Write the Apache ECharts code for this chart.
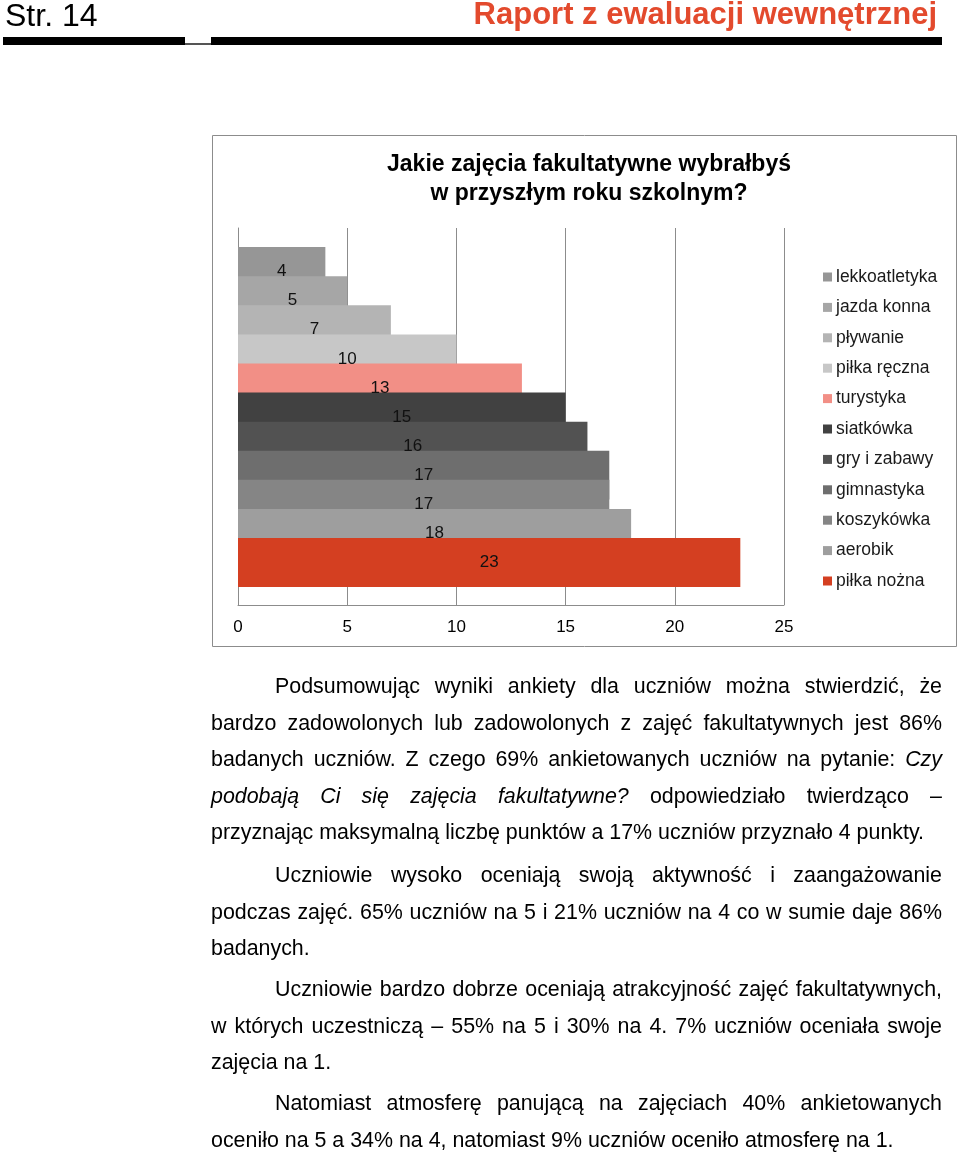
<!DOCTYPE html>
<html lang="pl">
<head>
  <meta charset="utf-8">
  <style>
    body { margin: 0; background: #fff; }
    #page { position: relative; width: 960px; height: 1152px; overflow: hidden; }
    #container { position: absolute; left: 0; top: 0; width: 960px; height: 1152px; }
    .hdr-left { position: absolute; left: 5px; top: -3px; font: 32px "Liberation Sans", Arial, sans-serif; color: #000; }
    .hdr-right { position: absolute; right: 23px; top: -4px; font: bold 31px "Liberation Sans", Arial, sans-serif; color: #e34a2d; }
    .bar { position: absolute; background: #000; }
    .para { position: absolute; left: 211px; width: 731px; font: 21.4px "Liberation Sans", Arial, sans-serif; color: #000; }
    .para div { height: 36.6px; line-height: 36.6px; white-space: nowrap; }
    .para div.j { text-align: justify; text-align-last: justify; white-space: normal; }
    .para div.first { padding-left: 64px; }
  </style>
</head>
<body>
<div id="page">
  <div id="container"></div>
  <div class="hdr-left">Str. 14</div>
  <div class="hdr-right">Raport z ewaluacji wewnętrznej</div>
  <div class="bar" style="left:3px; top:37px; width:182px; height:8px;"></div>
  <div class="bar" style="left:185px; top:43px; width:26px; height:2px; background:#555;"></div>
  <div class="bar" style="left:211px; top:37px; width:731px; height:8px;"></div>

  <div class="para" style="top:668px;">
    <div class="j first">Podsumowując wyniki ankiety dla uczniów można stwierdzić, że</div>
    <div class="j">bardzo zadowolonych lub zadowolonych z zajęć fakultatywnych jest 86%</div>
    <div class="j">badanych uczniów. Z czego 69% ankietowanych uczniów na pytanie: <i>Czy</i></div>
    <div class="j"><i>podobają Ci się zajęcia fakultatywne?</i> odpowiedziało twierdząco –</div>
    <div>przyznając maksymalną liczbę punktów a 17% uczniów przyznało 4 punkty.</div>
  </div>
  <div class="para" style="top:857px;">
    <div class="j first">Uczniowie wysoko oceniają swoją aktywność i zaangażowanie</div>
    <div class="j">podczas zajęć. 65% uczniów na 5 i 21% uczniów na 4 co w sumie daje 86%</div>
    <div>badanych.</div>
  </div>
  <div class="para" style="top:971px;">
    <div class="j first">Uczniowie bardzo dobrze oceniają atrakcyjność zajęć fakultatywnych,</div>
    <div class="j">w których uczestniczą – 55% na 5 i 30% na 4. 7% uczniów oceniała swoje</div>
    <div>zajęcia na 1.</div>
  </div>
  <div class="para" style="top:1085px;">
    <div class="j first">Natomiast atmosferę panującą na zajęciach 40% ankietowanych</div>
    <div>oceniło na 5 a 34% na 4, natomiast 9% uczniów oceniło atmosferę na 1.</div>
  </div>
</div>

<script src="https://cdn.jsdelivr.net/npm/echarts@6/dist/echarts.min.js"></script>
<script>
// zajęcia i liczba wskazań
var categories = ['lekkoatletyka', 'jazda konna', 'pływanie', 'piłka ręczna', 'turystyka',
  'siatkówka', 'gry i zabawy', 'gimnastyka', 'koszykówka', 'aerobik', 'piłka nożna'];
var values = [4, 5, 7, 10, 13, 15, 16, 17, 17, 18, 23];
var colors = ['#969696', '#a6a6a6', '#b4b4b4', '#c7c7c7', '#f28f86',
  '#414141', '#525252', '#6e6e6e', '#858585', '#9e9e9e', '#d43f21'];
var xTicks = [0, 5, 10, 15, 20, 25];

var FONT = '"Liberation Sans", Arial, sans-serif';

var chart = echarts.init(document.getElementById('container'), null, { renderer: 'canvas' });

// słupek grubszy niż odstęp kategorii -> nachodzą na siebie (jak w Excelu)
function renderBar(params, api) {
  var cat = api.value(1);
  var start = api.coord([0, cat]);
  var end = api.coord([api.value(0), cat]);
  var h = api.size([0, 1])[1] * 1.68;
  return {
    type: 'rect',
    shape: { x: start[0], y: start[1] - h / 2, width: end[0] - start[0], height: h },
    style: api.style()
  };
}

function renderLabel(params, api) {
  var cat = api.value(1);
  var start = api.coord([0, cat]);
  var end = api.coord([api.value(0), cat]);
  return {
    type: 'text',
    x: (start[0] + end[0]) / 2,
    y: start[1],
    style: {
      text: String(api.value(0)),
      align: 'center',
      verticalAlign: 'middle',
      fill: '#111',
      font: '17px ' + FONT
    }
  };
}

var series = categories.map(function (name, i) {
  return {
    name: name,
    type: 'custom',
    xAxisIndex: 0,
    yAxisIndex: 0,
    itemStyle: { color: colors[i] },
    encode: { x: 0, y: 1 },
    renderItem: renderBar,
    data: [[values[i], i]]
  };
});

series.push({
  name: 'etykiety',
  type: 'custom',
  z: 5,
  silent: true,
  xAxisIndex: 0,
  yAxisIndex: 0,
  encode: { x: 0, y: 1 },
  renderItem: renderLabel,
  data: values.map(function (v, i) { return [v, i]; })
});

var option = {
  animation: false,
  textStyle: { fontFamily: FONT },
  graphic: [{
    type: 'rect',
    shape: { x: 212.5, y: 135.5, width: 744, height: 511 },
    style: { fill: 'none', stroke: '#8c8c8c', lineWidth: 1 },
    z: -1
  }],
  title: {
    text: 'Jakie zajęcia fakultatywne wybrałbyś\nw przyszłym roku szkolnym?',
    left: 584,
    top: 145,
    textAlign: 'center',
    textStyle: { fontFamily: FONT, fontSize: 23, fontWeight: 'bold', color: '#000', lineHeight: 29 }
  },
  legend: {
    orient: 'vertical',
    left: 823,
    top: 268,
    padding: 0,
    icon: 'rect',
    itemWidth: 9,
    itemHeight: 9,
    itemGap: 12.4,
    textStyle: { fontFamily: FONT, fontSize: 17.5, color: '#1a1a1a', padding: [0, 0, 0, -1] },
    data: categories
  },
  grid: [
    { left: 238, top: 257, width: 546, height: 320 },
    { left: 238, top: 228, width: 546, height: 377 }
  ],
  xAxis: [
    { gridIndex: 0, type: 'value', min: 0, max: 25, show: false },
    {
      gridIndex: 1, type: 'value', min: xTicks[0], max: xTicks[xTicks.length - 1], interval: 5,
      axisLine: { show: true, lineStyle: { color: '#8c8c8c' } },
      axisTick: { show: false },
      splitLine: { show: true, lineStyle: { color: '#8c8c8c' } },
      axisLabel: { color: '#000', fontSize: 17, fontFamily: FONT, margin: 14 }
    }
  ],
  yAxis: [
    { gridIndex: 0, type: 'category', data: categories, inverse: true, show: false },
    {
      gridIndex: 1, type: 'value', min: 0, max: 1,
      axisLine: { show: true, lineStyle: { color: '#8c8c8c' } },
      axisTick: { show: false },
      axisLabel: { show: false },
      splitLine: { show: false }
    }
  ],
  series: series
};

chart.setOption(option);
window.addEventListener('resize', chart.resize);
</script>
</body>
</html>
